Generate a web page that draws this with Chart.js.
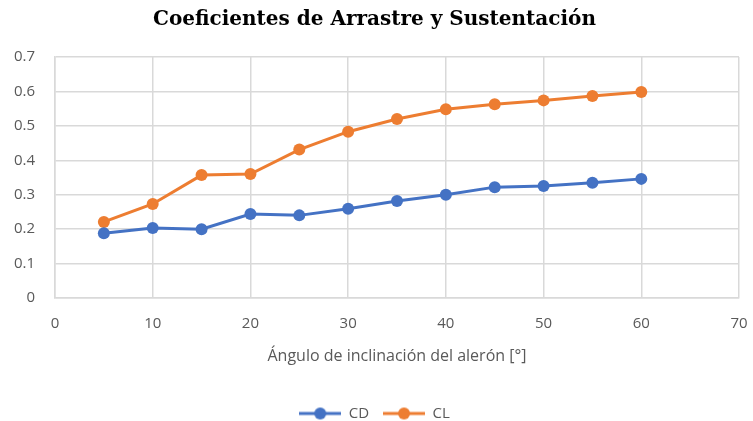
<!DOCTYPE html>
<html>
<head>
<meta charset="utf-8">
<script src="https://cdn.jsdelivr.net/npm/chart.js@4"></script>
<style>
  html, body { margin: 0; padding: 0; background: #fff; overflow: hidden; }
  #wrap { width: 753px; height: 421px; }
</style>
</head>
<body>
<div id="wrap"><canvas id="coefChart" width="753" height="421"></canvas></div>
<script>
// ángulos del alerón [°]
const angles = [5, 10, 15, 20, 25, 30, 35, 40, 45, 50, 55, 60];
// coeficiente de arrastre
const cdValues = [0.188, 0.203, 0.200, 0.244, 0.240, 0.259, 0.282, 0.300, 0.322, 0.325, 0.335, 0.346];
// coeficiente de sustentación
const clValues = [0.221, 0.273, 0.357, 0.360, 0.431, 0.483, 0.520, 0.548, 0.563, 0.574, 0.587, 0.598];

const BLUE = "#4472C4";
const ORANGE = "#ED7D31";
const GRID = "#d9d9d9";
const TEXT = "#595959";

function toPoints(ys) {
  return angles.map((x, i) => ({ x: x, y: ys[i] }));
}

// icono de leyenda: línea con marcador
function legendIcon(color) {
  const c = document.createElement("canvas");
  c.width = 42;
  c.height = 14;
  const g = c.getContext("2d");
  g.strokeStyle = color;
  g.lineWidth = 3;
  g.beginPath();
  g.moveTo(0, 7);
  g.lineTo(42, 7);
  g.stroke();
  g.fillStyle = color;
  g.beginPath();
  g.arc(21, 7, 6, 0, Math.PI * 2);
  g.fill();
  return c;
}

const ctx = document.getElementById("coefChart").getContext("2d");
const coefChart = new Chart(ctx, {
  type: "line",
  data: {
    datasets: [
      {
        label: "CD",
        data: toPoints(cdValues),
        borderColor: BLUE,
        backgroundColor: BLUE,
        borderWidth: 3,
        pointRadius: 6,
        pointHoverRadius: 6,
        pointBorderWidth: 0,
        tension: 0,
      },
      {
        label: "CL",
        data: toPoints(clValues),
        borderColor: ORANGE,
        backgroundColor: ORANGE,
        borderWidth: 3,
        pointRadius: 6,
        pointHoverRadius: 6,
        pointBorderWidth: 0,
        tension: 0,
      },
    ],
  },
  options: {
    responsive: false,
    animation: false,
    layout: { padding: { left: 10, right: 14, top: 0, bottom: -10 } },
    scales: {
      x: {
        type: "linear",
        min: 0,
        max: 70,
        ticks: {
          stepSize: 10,
          color: TEXT,
          padding: 17,
          font: { family: "Open Sans", size: 15 },
        },
        grid: { color: GRID, lineWidth: 1.5, drawTicks: false },
        border: { color: GRID, width: 1.5 },
        title: {
          display: true,
          text: "Ángulo de inclinación del alerón [°]",
          color: TEXT,
          font: { family: "Open Sans", size: 16 },
          padding: { top: 10, bottom: 26 },
        },
        afterFit: (scale) => {
          scale.height = 94;
          scale.paddingLeft = 0;
          scale.paddingRight = 0;
        },
      },
      y: {
        min: 0,
        max: 0.7,
        ticks: {
          stepSize: 0.1,
          color: TEXT,
          padding: 20,
          font: { family: "Open Sans", size: 15 },
          callback: (v) => +v.toFixed(1),
        },
        grid: { color: GRID, lineWidth: 1.5, drawTicks: false },
        border: { color: GRID, width: 1.5 },
        afterFit: (scale) => {
          scale.width = 45;
        },
      },
    },
    plugins: {
      title: {
        display: true,
        text: "Coeficientes de Arrastre y Sustentación",
        color: "#000",
        font: { family: "DejaVu Serif", size: 20, weight: "bold" },
        padding: { top: 8, bottom: 25 },
      },
      legend: {
        position: "bottom",
        labels: {
          usePointStyle: true,
          pointStyleWidth: 42,
          boxHeight: 14,
          color: TEXT,
          font: { family: "Open Sans", size: 15 },
          padding: 14,
          generateLabels: (chart) =>
            chart.data.datasets.map((ds, i) => ({
              text: ds.label,
              fontColor: TEXT,
              pointStyle: legendIcon(ds.borderColor),
              datasetIndex: i,
              hidden: false,
              lineWidth: 0,
            })),
        },
      },
      tooltip: { enabled: false },
    },
  },
});
</script>
</body>
</html>
